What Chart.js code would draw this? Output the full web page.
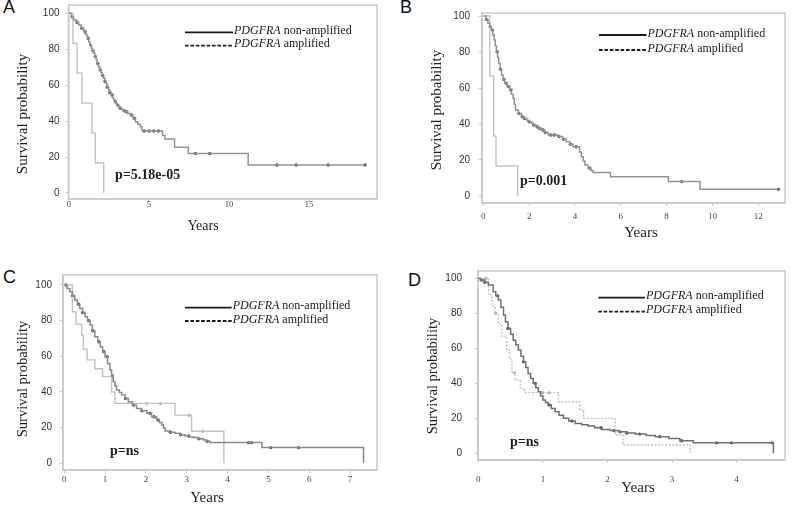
<!DOCTYPE html>
<html><head><meta charset="utf-8">
<script src="https://cdn.jsdelivr.net/npm/chart.js@4"></script>
<style>
html,body{margin:0;padding:0;background:#fff;}
body{width:792px;height:507px;overflow:hidden;position:relative;}
canvas{position:absolute;left:0;top:0;}
.lbl{position:absolute;font-family:"Liberation Sans",Arial,sans-serif;font-size:18px;line-height:1;color:#111;}
</style></head><body>
<div class="lbl" style="left:3px;top:-2px">A</div>
<div class="lbl" style="left:400px;top:-2px">B</div>
<div class="lbl" style="left:3px;top:268px">C</div>
<div class="lbl" style="left:408px;top:271px">D</div>
<canvas id="cA" width="792" height="507"></canvas>
<canvas id="cB" width="792" height="507"></canvas>
<canvas id="cC" width="792" height="507"></canvas>
<canvas id="cD" width="792" height="507"></canvas>
<script>
// ---------- tick labels ----------
const yTicks = [0, 20, 40, 60, 80, 100];
const aXTicks = [0, 5, 10, 15];
const bXTicks = [0, 2, 4, 6, 8, 10, 12];
const cXTicks = [0, 1, 2, 3, 4, 5, 6, 7];
const dXTicks = [0, 1, 2, 3, 4];

// ---------- Panel A ----------
const aNonT = [0,0.15,0.29,0.45,0.6,0.76,0.92,1.01,1.1,1.17,1.23,1.31,1.4,1.47,1.54,1.62,1.7,1.77,1.85,1.92,2.0,2.08,2.17,2.25,2.33,2.4,2.48,2.55,2.63,2.71,2.79,2.87,2.95,3.02,3.1,3.2,3.3,3.41,3.52,3.67,3.83,4.0,4.15,4.3,4.46,4.56,5.85,6.0,6.6,7.46,11.2,18.5];
const aNonS = [100,98,96.3,95,93.5,91.7,89.8,88.6,87.5,86,84.2,82.3,80.5,79.1,77.7,75.9,74,72.1,70.3,68.6,67,65.4,63.8,62.1,60.5,58.9,57.3,55.9,54.5,53.1,51.8,50.8,49.8,48.9,48,47.2,46.5,45.8,45.2,44.3,43.4,41.5,39.7,38.3,36.9,34.5,32,30,25.5,22,15.6,15.6];
const aNonCens = [0.2,0.5,0.8,1.0,1.2,1.35,1.5,1.65,1.8,1.95,2.1,2.25,2.4,2.55,2.7,2.9,3.05,3.2,3.45,3.6,3.9,4.1,4.7,5.0,5.3,5.6,7.9,8.8,13.0,14.2,16.2,18.5];
const aAmpT = [0,0.25,0.5,0.81,1.44,1.65,2.17];
const aAmpS = [100,83.3,66.7,50,33.3,16.7,0];
const aAmpCens = [];

// ---------- Panel B ----------
const bNonT = [0,0.1,0.2,0.28,0.35,0.41,0.47,0.52,0.57,0.62,0.67,0.73,0.79,0.86,0.93,1.04,1.15,1.22,1.3,1.35,1.4,1.53,1.66,1.78,1.9,2.0,2.1,2.2,2.3,2.42,2.53,2.68,2.83,3.26,3.45,3.62,3.77,3.92,4.2,4.28,4.36,4.43,4.57,4.68,4.79,5.55,8.08,9.46,12.88];
const bNonS = [100,98,96,94,92.2,89.5,86.7,83.5,80.2,77,73.7,70.5,67.2,64.8,62.6,60.8,58.9,56.5,54.3,51,47.8,45.9,44,43,42,41.2,40.4,39.4,38.5,37.6,36.7,35.3,33.9,33,31.5,30.2,28.8,27.4,24.5,21.8,19.5,17.2,15.4,14.2,13,10.7,8,3.7,3.7];
const bNonCens = [0.15,0.3,0.4,0.6,0.75,0.9,1.0,1.1,1.2,1.55,1.7,1.8,2.0,2.2,2.35,2.45,2.6,2.7,2.95,3.1,3.3,3.5,3.8,4.05,4.65,8.66,12.88];
const bAmpT = [0,0.28,0.45,0.55,1.5];
const bAmpS = [100,66.7,33.3,16.7,0];
const bAmpCens = [];

// ---------- Panel C ----------
const cNonT = [0,0.07,0.14,0.2,0.26,0.32,0.38,0.45,0.51,0.57,0.63,0.69,0.75,0.82,0.88,0.94,1.0,1.06,1.12,1.16,1.2,1.24,1.28,1.35,1.41,1.49,1.57,1.67,1.77,1.9,2.02,2.14,2.26,2.33,2.39,2.43,2.47,2.59,2.71,2.84,2.96,3.06,3.16,3.28,3.41,3.49,3.57,4.84,7.33];
const cNonS = [100,98,96.2,94,91.6,89.2,86.9,84.5,82.2,80,77.6,74.3,71,68.2,65.4,62.6,59.8,56,52.3,49,45.8,43.5,41.1,39.7,38.3,36.4,34.5,32.6,30.8,29.4,28,26.1,24.3,22.9,21.5,19.8,18.1,17.4,16.8,16,15.3,14.8,14.4,13.7,13.1,12.3,11.6,8.8,0];
const cNonCens = [0.04,0.2,0.35,0.45,0.6,0.7,0.85,0.97,1.05,1.18,1.5,1.7,1.9,2.1,2.2,2.3,2.6,2.85,3.05,3.3,3.5,4.51,4.59,5.06,5.74];
const cAmpT = [0,0.2,0.29,0.43,0.47,0.56,0.75,0.94,1.16,1.24,2.71,3.12,3.91];
const cAmpS = [100,85,78,71.7,64,58,53,48.6,40,33.6,27,18,0];
const cAmpCens = [2.02,2.36,3.06,3.39];

// ---------- Panel D ----------
const dNonT = [0,0.03,0.1,0.155,0.23,0.27,0.31,0.35,0.39,0.42,0.46,0.5,0.54,0.58,0.62,0.66,0.70,0.735,0.77,0.81,0.85,0.89,0.93,0.965,1.0,1.04,1.08,1.13,1.19,1.25,1.32,1.4,1.5,1.6,1.7,1.8,1.91,2.04,2.17,2.3,2.43,2.6,2.74,2.95,3.12,3.33,4.57];
const dNonS = [100,99,97.8,96.2,92.3,90,87.6,83.5,79,75,71.4,68,64.7,62,59,55.5,52.3,49,45.7,42.8,40,37.5,35.2,32.8,30.5,29,27.6,25.6,23.8,21.8,20,18.5,17.1,16.3,15.6,14.6,13.7,13,12.3,11.6,11,10.2,9.5,8.5,7.2,6,0];
const dNonCens = [0.05,0.1,0.3,0.46,0.7,0.88,1.1,1.45,1.9,2.1,2.2,2.3,2.5,2.81,3.15,3.69,3.92,4.55];
const dAmpT = [0,0.16,0.21,0.26,0.31,0.36,0.44,0.48,0.52,0.57,0.65,0.72,1.24,1.57,1.63,2.12,2.24,3.28];
const dAmpS = [100,90.5,84,80,74,67,59,54,46,42,37,34.7,29.5,24.8,20,10.5,4.8,0];
const dAmpCens = [0.12,0.27,0.56,1.0,1.1];

const pValues = ['p=5.18e-05', 'p=0.001', 'p=ns', 'p=ns'];
const seriesNames = ['non-amplified', 'amplified'];
const geneName = 'PDGFRA';

function km(T, S) { return T.map((t, i) => ({x: t, y: S[i]})); }
function cens(T, S, C) {
  return C.map(c => { let v = S[0]; for (let i = 0; i < T.length; i++) { if (T[i] <= c) v = S[i]; } return {x: c, y: v}; });
}

function deco(p) {
  return {
    id: 'deco' + p.id,
    beforeDatasetsDraw(ch) {
      const {ctx, chartArea: a} = ch;
      ctx.save();
      ctx.strokeStyle = '#c9c9c9'; ctx.lineWidth = 1.5;
      ctx.strokeRect(a.left, a.top, a.right - a.left, a.bottom - a.top);
      ctx.restore();
    },
    afterDraw(ch) {
      const ctx = ch.ctx;
      ctx.save();
      ctx.fillStyle = '#1e1e1e';
      ctx.translate(p.yTitle[0], p.yTitle[1]);
      ctx.rotate(-Math.PI / 2);
      ctx.font = p.yTitle[2] + 'px "Liberation Serif"';
      ctx.textAlign = 'center'; ctx.textBaseline = 'middle';
      ctx.fillText('Survival probability', 0, 0);
      ctx.restore();

      ctx.save();
      ctx.fillStyle = '#1e1e1e';
      ctx.font = p.xTitle[2] + 'px "Liberation Serif"';
      ctx.textAlign = 'center'; ctx.textBaseline = 'middle';
      ctx.fillText('Years', p.xTitle[0], p.xTitle[1]);

      ctx.font = 'bold 14px "Liberation Serif"';
      ctx.textAlign = 'left';
      ctx.fillText(p.pval, p.pPos[0], p.pPos[1]);

      const L = p.leg;
      const rows = [[L[2], [], seriesNames[0]], [L[3], [3.6, 1.8], seriesNames[1]]];
      rows.forEach(r => {
        ctx.beginPath();
        ctx.setLineDash(r[1]);
        ctx.lineWidth = 1.8; ctx.strokeStyle = '#1a1a1a';
        ctx.moveTo(L[0], r[0]); ctx.lineTo(L[1], r[0]); ctx.stroke();
        ctx.setLineDash([]);
        ctx.fillStyle = '#1a1a1a';
        ctx.textBaseline = 'alphabetic';
        ctx.font = 'italic 12px "Liberation Serif"';
        ctx.fillText(geneName, L[1] + 1, r[0] + 1.5);
        const w = ctx.measureText(geneName).width;
        ctx.font = '12px "Liberation Serif"';
        ctx.fillText(' ' + r[2], L[1] + 1 + w, r[0] + 1.5);
      });
      ctx.restore();
    }
  };
}

function makePanel(p) {
  const zeroPad = s => { s.paddingTop = 0; s.paddingBottom = 0; s.paddingLeft = 0; s.paddingRight = 0; };
  new Chart(document.getElementById(p.id), {
    type: 'line',
    data: {datasets: [
      {data: km(p.nT, p.nS), stepped: true, borderColor: p.nColor, borderWidth: 1.5, pointRadius: 0, fill: false},
      {data: km(p.aT, p.aS), stepped: true, borderColor: '#c2c2c2', borderWidth: 1.4, pointRadius: 0, fill: false, borderDash: p.ampDash},
      {data: cens(p.nT, p.nS, p.nC), showLine: false, pointRadius: 1.7, pointBackgroundColor: '#555', pointBorderWidth: 0},
      {data: cens(p.aT, p.aS, p.aC), showLine: false, pointRadius: 1.5, pointBackgroundColor: '#a5a5a5', pointBorderWidth: 0}
    ]},
    options: {
      responsive: false, animation: false, events: [],
      layout: {padding: {left: p.box[0] - 40, top: p.box[1], right: 792 - p.box[2], bottom: 507 - p.box[3] - 30}},
      plugins: {legend: {display: false}, tooltip: {enabled: false}},
      scales: {
        x: {
          type: 'linear', min: p.xr[0], max: p.xr[1],
          afterFit: s => { s.height = 30; zeroPad(s); },
          afterBuildTicks: s => { s.ticks = p.xt.map(v => ({value: v})); },
          ticks: {font: {family: 'Liberation Serif', size: p.xFont}, color: '#444', padding: p.xPad, maxRotation: 0, autoSkip: false},
          grid: {display: true, drawOnChartArea: false, drawTicks: true, tickLength: 3, color: '#c9c9c9'},
          border: {display: true, color: '#c9c9c9', width: 1.5}
        },
        y: {
          type: 'linear', min: p.yr[0], max: p.yr[1],
          afterFit: s => { s.width = 40; zeroPad(s); },
          afterBuildTicks: s => { s.ticks = yTicks.map(v => ({value: v})); },
          ticks: {font: {family: 'Liberation Sans', size: 10}, color: '#333', padding: p.yPad},
          grid: {display: true, drawOnChartArea: false, drawTicks: true, tickLength: 3, color: '#c9c9c9'},
          border: {display: true, color: '#c9c9c9', width: 1.5}
        }
      }
    },
    plugins: [deco(p)]
  });
}

makePanel({id: 'cA', box: [68.5, 5, 377, 199], xr: [-0.03, 19.25], yr: [-3.34, 104.6], xt: aXTicks, xFont: 8.5, xPad: -2, yPad: 6,
  nT: aNonT, nS: aNonS, nC: aNonCens, aT: aAmpT, aS: aAmpS, aC: aAmpCens, ampDash: [], nColor: '#939393',
  yTitle: [23, 114, 15], xTitle: [203, 226, 14], leg: [185, 233, 32.3, 45.7], pval: pValues[0], pPos: [115, 175]});
makePanel({id: 'cB', box: [482, 13, 785, 203], xr: [-0.06, 13.17], yr: [-3.9, 101.7], xt: bXTicks, xFont: 9, xPad: 5, yPad: 9,
  nT: bNonT, nS: bNonS, nC: bNonCens, aT: bAmpT, aS: bAmpS, aC: bAmpCens, ampDash: [], nColor: '#939393',
  yTitle: [437, 110, 15], xTitle: [641, 233, 15], leg: [599, 646.5, 35, 50], pval: pValues[1], pPos: [520, 181.7]});
makePanel({id: 'cC', box: [63, 275, 377, 470], xr: [-0.03, 7.66], yr: [-3.76, 105.6], xt: cXTicks, xFont: 9, xPad: 1.5, yPad: 8,
  nT: cNonT, nS: cNonS, nC: cNonCens, aT: cAmpT, aS: cAmpS, aC: cAmpCens, ampDash: [], nColor: '#8a8a8a',
  yTitle: [23.3, 379, 14.5], xTitle: [207, 498, 15], leg: [185, 231.7, 307.7, 321], pval: pValues[2], pPos: [110, 451.7]});
makePanel({id: 'cD', box: [478, 271, 785, 460], xr: [-0.005, 4.75], yr: [-3.8, 104.2], xt: dXTicks, xFont: 9, xPad: 11.5, yPad: 13,
  nT: dNonT, nS: dNonS, nC: dNonCens, aT: dAmpT, aS: dAmpS, aC: dAmpCens, ampDash: [2, 1.5], nColor: '#707070',
  yTitle: [433.3, 376, 14.5], xTitle: [638, 488, 15], leg: [598.3, 645, 297.7, 311.7], pval: pValues[3], pPos: [510, 442.7]});
</script>
</body></html>
